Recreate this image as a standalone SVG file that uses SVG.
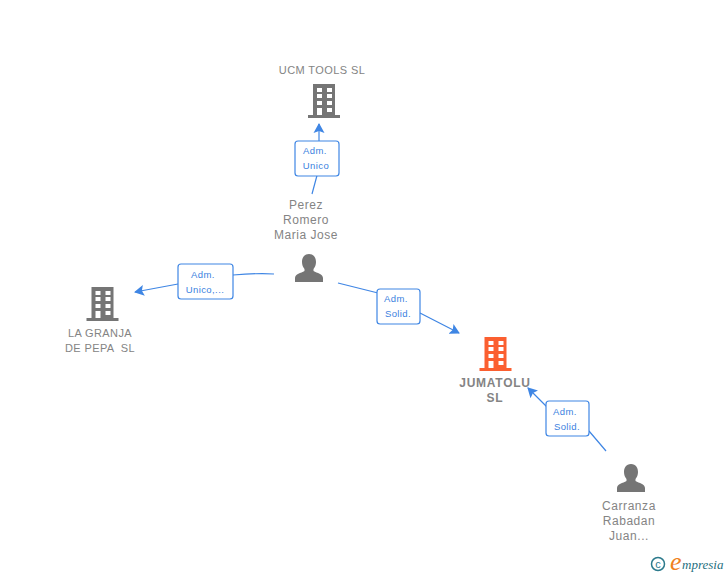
<svg xmlns="http://www.w3.org/2000/svg" width="728" height="575" viewBox="0 0 728 575">
<style>
text{font-family:"Liberation Sans",Arial,sans-serif}
.n{font-size:11px;fill:#848484;text-anchor:middle;letter-spacing:.4px}
.c{font-size:12px;letter-spacing:.55px}
.b{font-weight:bold;font-size:12px;letter-spacing:.75px}
.l{font-size:9.5px;fill:#3b7fe0;text-anchor:middle;letter-spacing:.4px}
.box{fill:#fff;stroke:#3f86e4;stroke-width:1.2}
.e{fill:none;stroke:#3f86e4;stroke-width:1.2}
.g{fill:#757575}.o{fill:#fb5f30}
</style>
<defs>
<marker id="a" markerWidth="12" markerHeight="12" refX="9" refY="6" orient="auto" markerUnits="userSpaceOnUse"><path d="M0 0.500L10 6L0 11.500L2 6Z" fill="#3f86e4"/></marker>
<g id="bld"><path d="M-11 -17H11V14H16V17H-16V14H-11ZM-7 -13V-9H-2V-13ZM3 -13V-9H8V-13ZM-7 -7V-3H-2V-7ZM3 -7V-3H8V-7ZM-7 0V4H-2V0ZM3 0V4H8V0ZM-7 7V14H-2V7ZM3 7V11H8V7Z" fill-rule="evenodd"/></g>
<path id="per" d="M0 -14C5 -14 7 -10 7 -6C7 -3 6 -1 4.500 1V3C8 5 14 6 14 10V14H-14V10C-14 6 -8 5 -4.500 3V1C-6 -1 -7 -3 -7 -6C-7 -10 -5 -14 0 -14Z"/>
</defs>
<g id="connectors">
<path class="e" d="M312 194L319 168M319 141V124" marker-end="url(#a)"/>
<path class="e" d="M274 274C260 273 245 274 233 275M178 284L135 292" marker-end="url(#a)"/>
<path class="e" d="M338 283L378 293M420 313L459 333" marker-end="url(#a)"/>
<path class="e" d="M606 451L589 431M547 407L528 388" marker-end="url(#a)"/>
</g>
<g id="node-ucm"><text class="n" x="322" y="74">UCM TOOLS SL</text><use href="#bld" x="324" y="101" class="g"/></g>
<g id="node-granja"><use href="#bld" x="102.500" y="304" class="g"/><text class="n" x="100" y="337">LA GRANJA</text><text class="n" x="100" y="352" xml:space="preserve">DE PEPA  SL</text></g>
<g id="node-jumatolu"><use href="#bld" x="495.500" y="354" class="o"/><text class="n b" x="495" y="387">JUMATOLU</text><text class="n b" x="495" y="402">SL</text></g>
<g id="node-perez"><text class="n c" x="306" y="209">Perez</text><text class="n c" x="306" y="224">Romero</text><text class="n c" x="306" y="239">Maria Jose</text><use href="#per" x="309" y="268" class="g"/></g>
<g id="node-carranza"><use href="#per" x="631" y="478" class="g"/><text class="n c" x="629" y="510">Carranza</text><text class="n c" x="629" y="525">Rabadan</text><text class="n c" x="629" y="540">Juan...</text></g>
<g id="label-1"><rect class="box" x="295" y="141" width="44" height="35" rx="3"/><text class="l" x="315" y="154">Adm.</text><text class="l" x="316" y="169">Unico</text></g>
<g id="label-2"><rect class="box" x="178" y="264" width="55" height="35" rx="3"/><text class="l" x="203" y="278">Adm.</text><text class="l" x="205" y="293">Unico,...</text></g>
<g id="label-3"><rect class="box" x="377" y="289" width="43" height="35" rx="3"/><text class="l" x="396" y="302">Adm.</text><text class="l" x="398" y="317">Solid.</text></g>
<g id="label-4"><rect class="box" x="546" y="401" width="43" height="35" rx="3"/><text class="l" x="565" y="415">Adm.</text><text class="l" x="567" y="430">Solid.</text></g>
<g id="logo"><circle cx="658" cy="564" r="6.500" fill="none" stroke="#2c7a8c" stroke-width="1.500"/><text x="658" y="568" font-size="11" fill="#2c7a8c" text-anchor="middle">c</text><text x="670" y="570" font-size="13" fill="#1f6f80" font-style="italic" style="font-family:'Liberation Serif',serif"><tspan font-size="26" fill="#f08020">e</tspan><tspan x="682" y="569">mpresia</tspan></text></g>
</svg>
